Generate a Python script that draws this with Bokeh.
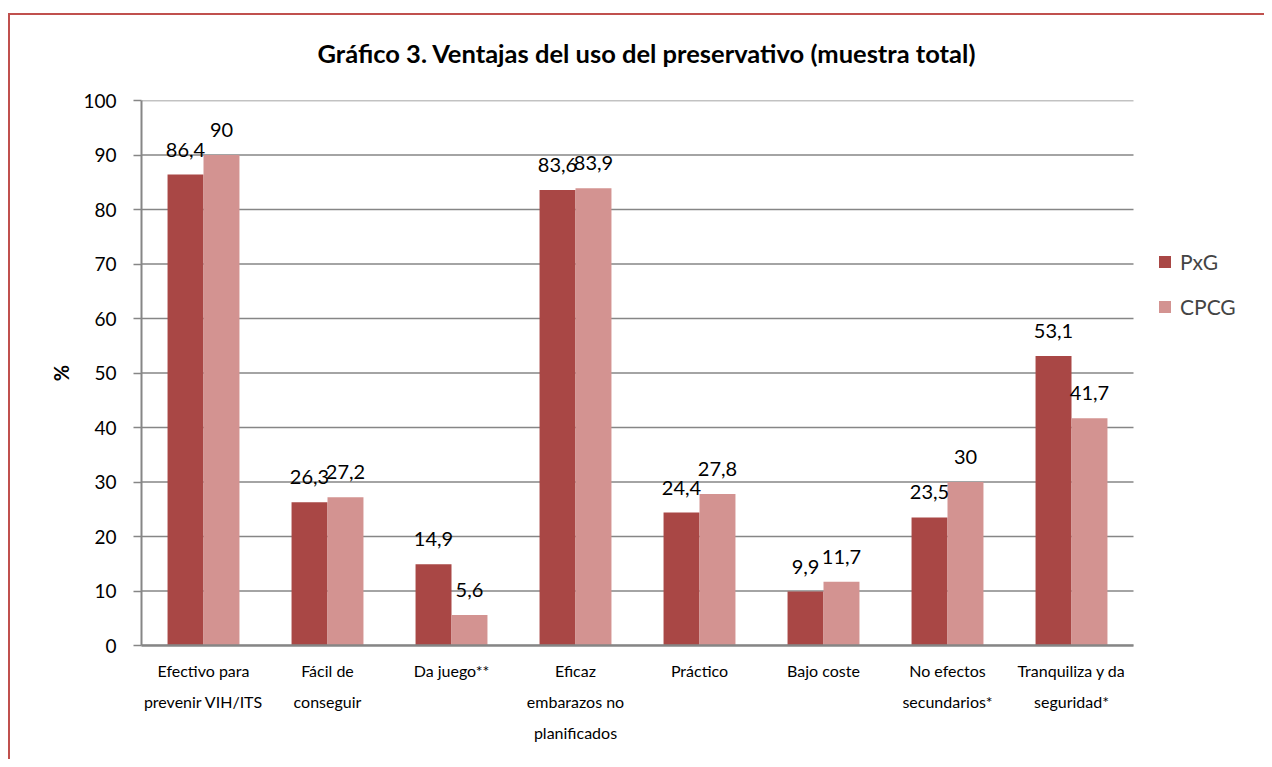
from bokeh.plotting import figure
from bokeh.models import (ColumnDataSource, Range1d, FixedTicker, Legend, LegendItem,
                          LinearAxis, Spacer, Title)
from bokeh.layouts import column, row
from bokeh.core.properties import value
from bokeh.embed import file_html
from bokeh.resources import INLINE

categories = [
    "Efectivo para\nprevenir VIH/ITS",
    "Fácil de\nconseguir",
    "Da juego**",
    "Eficaz\nembarazos no\nplanificados",
    "Práctico",
    "Bajo coste",
    "No efectos\nsecundarios*",
    "Tranquiliza y da\nseguridad*",
]
pxg = [86.4, 26.3, 14.9, 83.6, 24.4, 9.9, 23.5, 53.1]
cpcg = [90, 27.2, 5.6, 83.9, 27.8, 11.7, 30, 41.7]
series_names = ["PxG", "CPCG"]
y_ticks = [0, 10, 20, 30, 40, 50, 60, 70, 80, 90, 100]
title_text = "Gráfico 3.  Ventajas del uso del preservativo (muestra total)"

FONT = "Lato"
C1 = "#A94745"
C2 = "#D39391"
GRID = "#868686"
BORDER = "#C0504D"

BAR_W = 0.29
OFF = 0.145
n = len(categories)
idx = list(range(n))


def fmt(v):
    return f"{v:g}".replace(".", ",")


src = ColumnDataSource(dict(
    x1=[i - OFF for i in idx],
    x2=[i + OFF for i in idx],
    pxg=pxg,
    cpcg=cpcg,
    pxg_t=[fmt(v) for v in pxg],
    cpcg_t=[fmt(v) for v in cpcg],
))

W, H = 1254, 744
p = figure(
    x_range=Range1d(-0.5, -0.5 + 1123 / 124),
    y_range=Range1d(0, 100),
    width=W, height=H,
    output_backend="svg", toolbar_location=None,
    min_border_left=131, min_border_right=0,
    min_border_top=85, min_border_bottom=114,
)

# spacer title (nearest to the frame), then the real title above it
p.add_layout(Title(text=" ", text_font_size="10px", standoff=15), "above")
p.add_layout(Title(text=title_text, text_font=FONT, text_font_size="25.5px",
                   text_font_style="bold", text_color="black", align="left",
                   offset=176, standoff=10), "above")

# horizontal grid lines limited to the category area
p.segment(x0=[-0.5] * len(y_ticks), x1=[n - 0.5] * len(y_ticks), y0=y_ticks, y1=y_ticks,
          line_color=GRID, line_width=1.5)

r1 = p.vbar(x="x1", top="pxg", width=BAR_W, source=src, color=C1, line_color=None)
r2 = p.vbar(x="x2", top="cpcg", width=BAR_W, source=src, color=C2, line_color=None)

p.text(x="x1", y="pxg", text="pxg_t", source=src,
       text_font=value(FONT), text_font_size="20px", text_align="center",
       text_baseline="alphabetic", y_offset=-25, text_color="black")
p.text(x="x2", y="cpcg", text="cpcg_t", source=src,
       text_font=value(FONT), text_font_size="20px", text_align="center",
       text_baseline="alphabetic", y_offset=-25, text_color="black")

p.outline_line_color = None
p.grid.visible = False

p.yaxis.ticker = FixedTicker(ticks=y_ticks)
p.yaxis.minor_tick_line_color = None
p.yaxis.major_tick_in = 0
p.yaxis.major_tick_out = 8
p.yaxis.major_tick_line_color = GRID
p.yaxis.major_tick_line_width = 1.5
p.yaxis.axis_line_color = GRID
p.yaxis.axis_line_width = 2
p.yaxis.major_label_text_font = FONT
p.yaxis.major_label_text_font_size = "19px"
p.yaxis.major_label_text_color = "black"
p.yaxis.major_label_standoff = 17
p.yaxis.axis_label = "%"
p.yaxis.axis_label_text_font = FONT
p.yaxis.axis_label_text_font_size = "20px"
p.yaxis.axis_label_text_font_style = "bold"
p.yaxis.axis_label_text_color = "black"
p.yaxis.axis_label_standoff = 7

# category labels: one axis per text line
lines = [c.split("\n") for c in categories]
standoffs = [15, 9, 9]
for k in range(3):
    overrides = {i: (ls[k] if k < len(ls) else " ") for i, ls in zip(idx, lines)}
    if k == 0:
        ax = p.xaxis[0]
        ax.axis_line_color = GRID
        ax.axis_line_width = 2.5
    else:
        ax = LinearAxis()
        ax.axis_line_color = None
        p.add_layout(ax, "below")
    ax.ticker = FixedTicker(ticks=idx)
    ax.bounds = (-0.5, n - 0.5)
    ax.major_label_overrides = overrides
    ax.major_tick_line_color = None
    ax.minor_tick_line_color = None
    ax.major_tick_out = 0
    ax.major_tick_in = 0
    ax.major_label_text_font = FONT
    ax.major_label_text_font_size = "16px"
    ax.major_label_text_color = "black"
    ax.major_label_standoff = standoffs[k]

legend = Legend(
    items=[LegendItem(label=series_names[0], renderers=[r1]),
           LegendItem(label=series_names[1], renderers=[r2])],
    location=(1016, 326),
    padding=0, margin=0, spacing=20,
    glyph_width=15, glyph_height=15, label_height=20,
    label_text_font=FONT, label_text_font_size="21px",
    label_standoff=8,
    border_line_color=None, background_fill_alpha=0,
)
p.add_layout(legend, "center")

top_gap = Spacer(width=8 + W + 2, height=13)
top_bar = Spacer(width=W + 2, height=2, styles={"background-color": BORDER})
left_bar = Spacer(width=2, height=H, styles={"background-color": BORDER})
layout = column(
    top_gap,
    row(Spacer(width=8, height=2), top_bar, spacing=0),
    row(Spacer(width=8, height=H), left_bar, p, spacing=0),
    spacing=0,
)

open("out.html", "w").write(file_html(layout, INLINE))
